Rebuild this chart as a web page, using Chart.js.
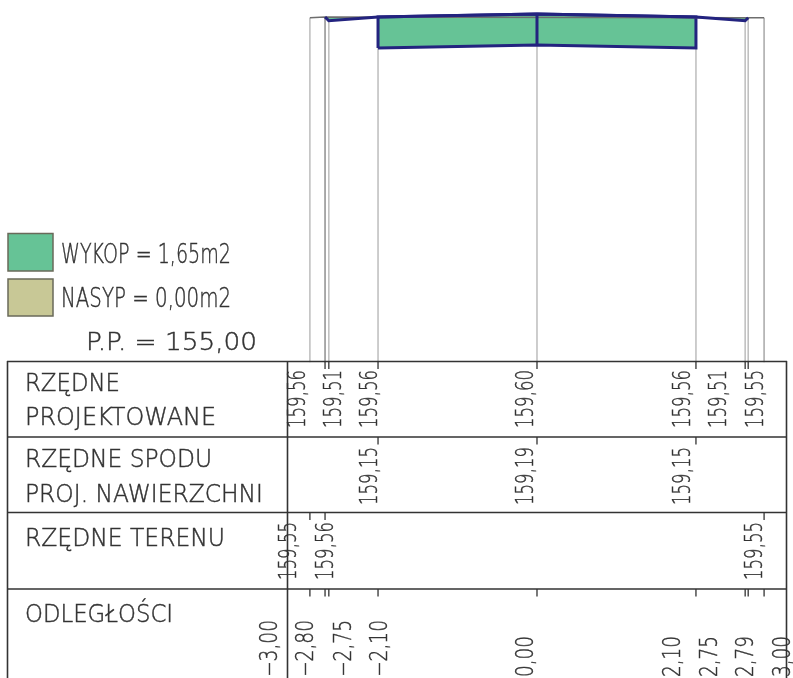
<!DOCTYPE html>
<html><head><meta charset="utf-8">
<style>html,body{margin:0;padding:0;background:#fff}#w{position:relative;width:793px;height:678px}canvas{display:block}</style>
<script src="https://cdn.jsdelivr.net/npm/chart.js@4"></script></head>
<body><div id="w"><canvas id="c" width="793" height="678"></canvas></div>
<script>
const DATUM = 155.00;
const designX = [-2.80, -2.75, -2.10, 0, 2.10, 2.75, 2.79];
const designY = [159.56, 159.51, 159.56, 159.60, 159.56, 159.51, 159.55];
const bottomX = [-2.10, 0, 2.10];
const bottomY = [159.15, 159.19, 159.15];
const terrainX = [-3.00, -2.80, 2.79, 3.00];
const terrainY = [159.55, 159.56, 159.55, 159.55];
const stationX = [-3.00, -2.80, -2.75, -2.10, 0, 2.10, 2.75, 2.79, 3.00];
const stationTop = [159.55, 159.56, 159.51, 159.56, 159.60, 159.56, 159.51, 159.55, 159.55];
const stationLabels = ['\u22123,00','\u22122,80','\u22122,75','\u22122,10','0,00','2,10','2,75','2,79','3,00'];
const rowProjLabels = ['159,56','159,51','159,56','159,60','159,56','159,51','159,55'];
const rowSpodLabels = ['159,15','159,19','159,15'];
const rowTerenLabels = ['159,55','159,56','159,55'];
const rowTitles = ['RZĘDNE','PROJEKTOWANE','RZĘDNE SPODU','PROJ. NAWIERZCHNI','RZĘDNE TERENU','ODLEGŁOŚCI'];
const legendTexts = ['WYKOP = 1,65m2','NASYP = 0,00m2','P.P. = 155,00'];

const xy = (xs, ys) => xs.map((x, i) => ({x, y: ys[i]}));
const polyX = [bottomX[0], bottomX[1], bottomX[2], designX[4], designX[3], designX[2], bottomX[0]];
const polyY = [bottomY[0], bottomY[1], bottomY[2], designY[4], designY[3], designY[2], bottomY[0]];
const FONT = '"DejaVu Sans"';
const BLUE = '#23237f', GREEN = '#66c396', KHAKI = '#c8c896', INK = '#333';

function txt(ctx, s, x, y, size, width, rot) {
  ctx.save();
  ctx.translate(x, y);
  if (rot) ctx.rotate(-Math.PI / 2);
  ctx.font = '200 ' + size + 'px ' + FONT;
  ctx.fillStyle = INK;
  ctx.strokeStyle = INK;
  ctx.lineWidth = 0.45;
  ctx.textAlign = 'left';
  ctx.textBaseline = 'alphabetic';
  const w = ctx.measureText(s).width;
  ctx.scale(width / w, 1);
  ctx.fillText(s, 0, 0);
  ctx.strokeText(s, 0, 0);
  ctx.restore();
}

const tablePlugin = {
  id: 'table',
  afterDraw(chart) {
    const ctx = chart.ctx, xs = chart.scales.x;
    const px = v => xs.getPixelForValue(v);
    ctx.save();
    ctx.lineWidth = 1.5; ctx.strokeStyle = '#6a6a5a';
    ctx.fillStyle = GREEN; ctx.fillRect(8, 233.5, 45, 37.5); ctx.strokeRect(8, 233.5, 45, 37.5);
    ctx.fillStyle = KHAKI; ctx.fillRect(8, 279, 45, 37); ctx.strokeRect(8, 279, 45, 37);
    ctx.strokeStyle = '#333'; ctx.lineWidth = 1.6;
    ctx.beginPath();
    [361.5, 437, 512.5, 589].forEach(y => { ctx.moveTo(7, y); ctx.lineTo(787, y); });
    [7.5, 287.5, 786.5].forEach(x => { ctx.moveTo(x, 361); ctx.lineTo(x, 678); });
    ctx.stroke();
    ctx.lineWidth = 1.3; ctx.beginPath();
    const tick = (vals, y) => vals.forEach(v => { const p = px(v); ctx.moveTo(p, y); ctx.lineTo(p, y + 7.5); });
    tick(stationX.slice(1, 8), 361.5);
    tick(bottomX, 437);
    tick([stationX[0], stationX[1], stationX[8]], 512.5);
    tick(stationX, 589);
    ctx.stroke();
    ctx.restore();
    const tb = [391, 425, 467, 502, 546, 622];
    const tw = [95, 191, 187, 238, 200, 148];
    rowTitles.forEach((t, i) => txt(ctx, t, 25, tb[i], 24, tw[i], false));
    txt(ctx, legendTexts[0], 61, 263, 27, 170, false);
    txt(ctx, legendTexts[1], 61, 307, 27, 170, false);
    txt(ctx, legendTexts[2], 86, 349.5, 24, 171, false);
    const bProj = [305, 341, 377, 533, 690, 726, 763];
    rowProjLabels.forEach((t, i) => txt(ctx, t, bProj[i], 428, 24, 58, true));
    const bSpod = [377, 533, 690];
    rowSpodLabels.forEach((t, i) => txt(ctx, t, bSpod[i], 505, 24, 58, true));
    const bTer = [296, 333, 762];
    rowTerenLabels.forEach((t, i) => txt(ctx, t, bTer[i], 580, 24, 58, true));
    const bDist = [277, 313, 351, 387, 533, 680, 717, 753, 790];
    stationLabels.forEach((t, i) => txt(ctx, t, bDist[i], 677, 24, i < 4 ? 57 : 41, true));
  }
};

const verticals = stationX.map((x, i) => ({
  data: [{x, y: stationTop[i]}, {x, y: DATUM}],
  borderColor: i === 1 ? '#8f8f8f' : (i === 8 ? '#a8a8a8' : '#bdbdbd'),
  borderWidth: 1.5, pointRadius: 0, showLine: true, fill: false, order: 6
}));

new Chart(document.getElementById('c'), {
  type: 'scatter',
  data: { datasets: [
    ...verticals,
    { label: 'Wykop', data: xy(polyX, polyY), showLine: true, fill: 'shape', backgroundColor: GREEN,
      borderColor: BLUE, borderWidth: 3, pointRadius: 0, order: 4 },
    { label: 'Klin L', data: xy([designX[1], designX[2], terrainX[1], designX[1]], [designY[1], designY[2], terrainY[1], designY[1]]), showLine: true, fill: 'shape', backgroundColor: GREEN, borderWidth: 0, pointRadius: 0, order: 5 },
    { label: 'Klin P', data: xy([designX[4], designX[5], designX[6], designX[4]], [designY[4], designY[5], designY[6], designY[4]]), showLine: true, fill: 'shape', backgroundColor: GREEN, borderWidth: 0, pointRadius: 0, order: 5 },
    { label: 'Teren', data: xy(terrainX, terrainY), showLine: true, borderColor: '#6e6e6e', borderWidth: 1.6, pointRadius: 0, order: 3 },
    { label: 'Oś', data: xy([0, 0], [bottomY[1], designY[3]]), showLine: true, borderColor: BLUE, borderWidth: 3, pointRadius: 0, order: 2 },
    { label: 'Niweleta', data: xy(designX, designY), showLine: true, borderColor: BLUE, borderWidth: 3, pointRadius: 0, order: 1 }
  ]},
  options: {
    responsive: false, animation: false, devicePixelRatio: 1,
    layout: { padding: 0 },
    plugins: { legend: {display: false}, tooltip: {enabled: false} },
    scales: {
      x: { type: 'linear', display: false, min: -7.094, max: 3.382 },
      y: { type: 'linear', display: false, min: 150.829, max: 159.785 }
    }
  },
  plugins: [tablePlugin]
});
</script></body></html>
